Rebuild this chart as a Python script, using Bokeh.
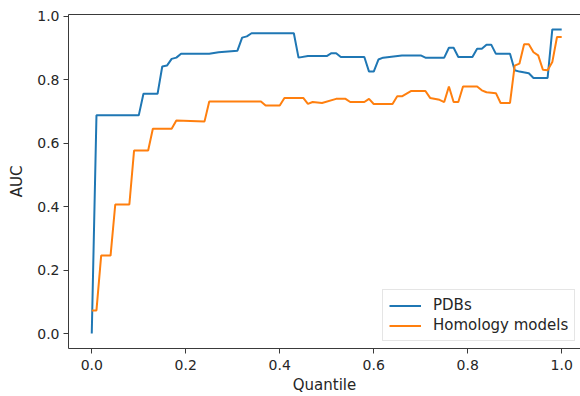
from bokeh.plotting import figure
from bokeh.models import LinearAxis, Legend, LegendItem, FixedTicker, Range1d
from bokeh.embed import file_html
from bokeh.resources import INLINE

# PDBs series (quantile, AUC)
pdb_q = [0.00, 0.01, 0.10, 0.11, 0.14, 0.15, 0.16, 0.17, 0.18, 0.19, 0.25, 0.27, 0.31,
         0.32, 0.33, 0.34, 0.43, 0.44, 0.46, 0.50, 0.51, 0.52, 0.53, 0.58, 0.59, 0.60,
         0.61, 0.62, 0.66, 0.70, 0.71, 0.75, 0.76, 0.77, 0.78, 0.81, 0.82, 0.83, 0.84,
         0.85, 0.86, 0.89, 0.90, 0.91, 0.93, 0.94, 0.97, 0.98, 1.00]
pdb_auc = [0.000, 0.688, 0.688, 0.756, 0.756, 0.842, 0.845, 0.866, 0.870, 0.882, 0.882, 0.887, 0.892,
           0.933, 0.937, 0.947, 0.947, 0.870, 0.875, 0.875, 0.884, 0.884, 0.872, 0.872, 0.826, 0.826,
           0.864, 0.870, 0.877, 0.877, 0.870, 0.870, 0.901, 0.901, 0.872, 0.872, 0.898, 0.898, 0.911,
           0.911, 0.882, 0.882, 0.830, 0.826, 0.821, 0.806, 0.806, 0.959, 0.959]

# Homology models series
hom_q = [0.00, 0.01, 0.02, 0.04, 0.05, 0.08, 0.09, 0.12, 0.13, 0.17, 0.18, 0.24, 0.25, 0.36,
         0.37, 0.40, 0.41, 0.45, 0.46, 0.47, 0.49, 0.52, 0.54, 0.55, 0.58, 0.59, 0.60, 0.64,
         0.65, 0.66, 0.68, 0.71, 0.72, 0.74, 0.75, 0.76, 0.77, 0.78, 0.79, 0.82, 0.83, 0.84,
         0.86, 0.87, 0.89, 0.90, 0.91, 0.92, 0.93, 0.94, 0.95, 0.96, 0.97, 0.98, 0.99, 1.00]
hom_auc = [0.073, 0.073, 0.246, 0.246, 0.407, 0.407, 0.577, 0.577, 0.646, 0.646, 0.672, 0.669, 0.732, 0.732,
           0.719, 0.719, 0.743, 0.743, 0.724, 0.730, 0.727, 0.740, 0.740, 0.730, 0.730, 0.740, 0.724, 0.724,
           0.748, 0.748, 0.765, 0.765, 0.743, 0.737, 0.730, 0.779, 0.730, 0.730, 0.779, 0.779, 0.767, 0.761,
           0.758, 0.727, 0.727, 0.845, 0.851, 0.912, 0.912, 0.887, 0.877, 0.832, 0.830, 0.856, 0.935, 0.935]

ticks = [0.0, 0.2, 0.4, 0.6, 0.8, 1.0]
tick_labels = ["0.0", "0.2", "0.4", "0.6", "0.8", "1.0"]

FONT = "DejaVu Sans"
AX = "#3a3a3a"
TXT = "#262626"

p = figure(width=580, height=396, output_backend="svg", toolbar_location=None,
           x_range=Range1d(-0.0495, 1.040), y_range=Range1d(-0.047, 1.006),
           min_border_left=68, min_border_right=0, min_border_top=14, min_border_bottom=48)
p.outline_line_color = None
p.xgrid.visible = False
p.ygrid.visible = False
p.background_fill_color = "white"
p.border_fill_color = "white"

r1 = p.line(pdb_q, pdb_auc, line_color="#1f77b4", line_width=2)
r2 = p.line(hom_q, hom_auc, line_color="#ff7f0e", line_width=2)

for ax, lab in ((p.xaxis[0], "Quantile"), (p.yaxis[0], "AUC")):
    ax.ticker = FixedTicker(ticks=ticks)
    ax.major_label_overrides = {t: l for t, l in zip(ticks, tick_labels)}
    ax.minor_tick_line_color = None
    ax.major_tick_in = 0
    ax.major_tick_out = 5
    ax.major_tick_line_color = AX
    ax.axis_line_color = AX
    ax.major_label_text_font = FONT
    ax.major_label_text_font_size = "14px"
    ax.major_label_text_color = TXT
    ax.axis_label = lab
    ax.axis_label_text_font = FONT
    ax.axis_label_text_font_size = "15px"
    ax.axis_label_text_font_style = "normal"
    ax.axis_label_text_color = TXT

p.xaxis[0].major_label_standoff = 6
p.xaxis[0].axis_label_standoff = 3
p.yaxis[0].major_label_standoff = 4
p.yaxis[0].axis_label_standoff = 8

top = LinearAxis(major_tick_line_color=None, minor_tick_line_color=None,
                 major_label_text_font_size="0px", axis_line_color=AX)
top.ticker = FixedTicker(ticks=[])
p.add_layout(top, "above")

legend = Legend(items=[LegendItem(label="PDBs", renderers=[r1]),
                       LegendItem(label="Homology models", renderers=[r2])],
                location=(314, 7), label_text_font=FONT, label_text_font_size="15px",
                label_text_color=TXT, glyph_width=32, glyph_height=15, label_standoff=12,
                padding=6, spacing=2, border_line_color="#cccccc", border_line_width=1,
                background_fill_alpha=0.8, margin=0)
p.add_layout(legend)

open("out.html", "w").write(file_html(p, INLINE))
